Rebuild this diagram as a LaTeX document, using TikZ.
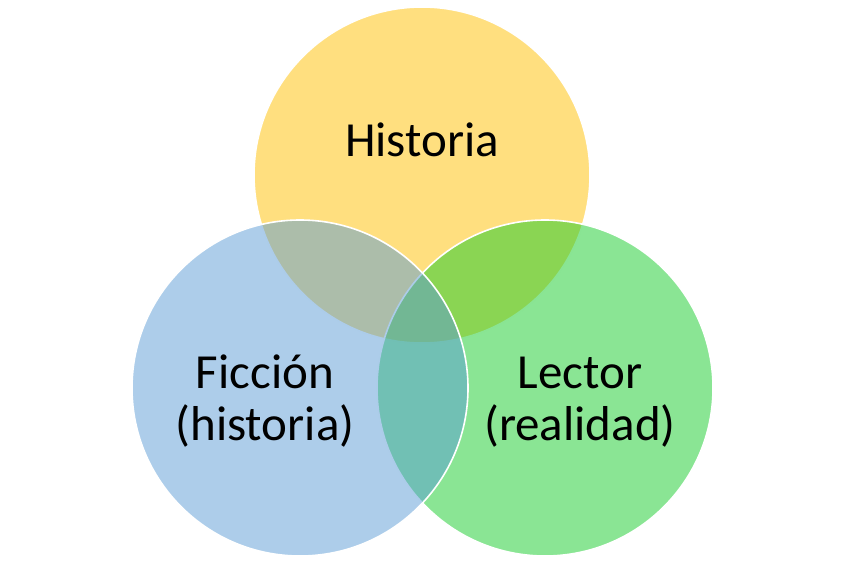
\documentclass[tikz,border=0pt]{standalone}
\usepackage{fontspec}
\setmainfont{Carlito}
\definecolor{cyellow}{HTML}{FFC000}
\definecolor{cblue}{HTML}{5B9BD5}
\definecolor{cgreen}{HTML}{15CB29}
\begin{document}
\begin{tikzpicture}[x=1pt,y=-1pt,
  venn/.style={circle, draw=white, line width=1.6pt, fill opacity=0.5, minimum size=336pt, inner sep=0pt},
  lbl/.style={font=\fontsize{49}{52}\selectfont, align=center, anchor=base, inner sep=0pt, text=black}]
\useasboundingbox (0,0) rectangle (845,564);
\node[venn, fill=cyellow] (hist) at (422,175) {};
\node[venn, fill=cgreen] (lect) at (545,388) {};
\node[venn, fill=cblue] (fic) at (300,388) {};
\node[lbl] (thist) at (422,157) {Historia};
\node[lbl] (tfic) at (265,440) {Ficción\\(historia)};
\node[lbl] (tlect) at (580,440) {Lector\\(realidad)};
\end{tikzpicture}
\end{document}
